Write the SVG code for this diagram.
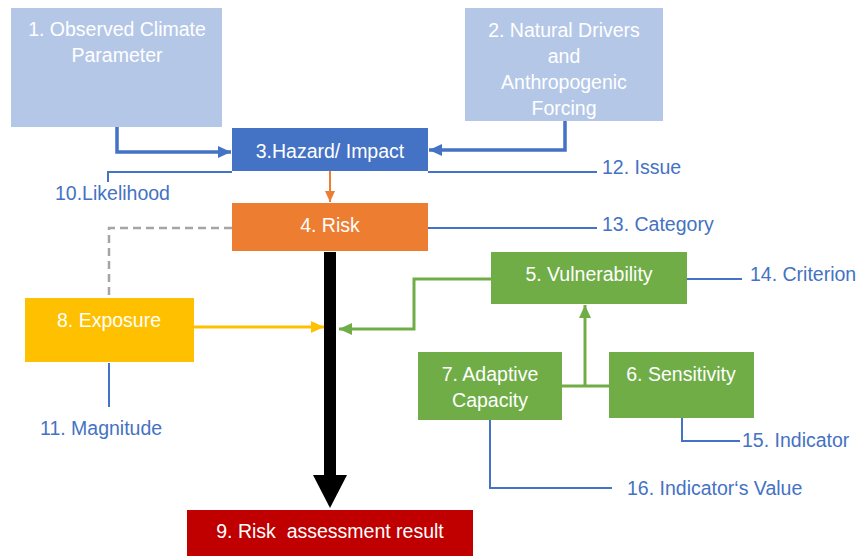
<svg xmlns="http://www.w3.org/2000/svg" width="861" height="556" viewBox="0 0 861 556">
<style>
text{font-family:"Liberation Sans",Arial,sans-serif;font-size:19.5px}
.w{fill:#ffffff;text-anchor:middle}
.lb{fill:#4472C4}
.bl{fill:none;stroke:#4472C4;stroke-width:2}
.bt{fill:none;stroke:#4472C4;stroke-width:3.5}
.gr{fill:none;stroke:#70AD47;stroke-width:3}
</style>
<defs>
<marker id="ab" markerUnits="userSpaceOnUse" markerWidth="14" markerHeight="14" refX="13" refY="7" orient="auto"><path d="M0,1 L13,7 L0,13 Z" fill="#4472C4"/></marker>
<marker id="ao" markerUnits="userSpaceOnUse" markerWidth="12" markerHeight="12" refX="11" refY="6" orient="auto"><path d="M0,1 L11,6 L0,11 Z" fill="#ED7D31"/></marker>
<marker id="ay" markerUnits="userSpaceOnUse" markerWidth="14" markerHeight="14" refX="13" refY="7" orient="auto"><path d="M0,1 L13,7 L0,13 Z" fill="#FFC000"/></marker>
<marker id="ag" markerUnits="userSpaceOnUse" markerWidth="14" markerHeight="14" refX="13" refY="7" orient="auto"><path d="M0,1 L13,7 L0,13 Z" fill="#70AD47"/></marker>
</defs>
<g id="connectors">
<path class="bt" d="M117,127 V152 H231" marker-end="url(#ab)"/>
<path class="bt" d="M565,121 V150 H429" marker-end="url(#ab)"/>
<path class="bl" d="M232,172 H108 V182"/>
<path class="bl" d="M428,172 H597"/>
<path d="M330,171 V202" fill="none" stroke="#ED7D31" stroke-width="2" marker-end="url(#ao)"/>
<path d="M232,228 H109 V298" fill="none" stroke="#A5A5A5" stroke-width="2.5" stroke-dasharray="8,5"/>
<path class="bl" d="M428,228 H597"/>
<line x1="330" y1="252" x2="330" y2="477" stroke="#000000" stroke-width="12"/>
<polygon points="313,475 347,475 330,508" fill="#000000"/>
<path d="M194,327 H324" fill="none" stroke="#FFC000" stroke-width="3" marker-end="url(#ay)"/>
<path class="gr" d="M491,279 H414 V329 H339" marker-end="url(#ag)"/>
<path class="bl" d="M687,279 H742"/>
<path class="gr" d="M562,386 H609"/>
<path class="gr" d="M585,386 V305" marker-end="url(#ag)"/>
<path class="bl" d="M682,418 V441 H740"/>
<path class="bl" d="M490,420 V488 H612"/>
<path class="bl" d="M109,363 V407"/>
</g>
<g id="n1"><rect x="11" y="8" width="211" height="119" fill="#B4C7E7"/><text class="w" x="117" y="36">1. Observed Climate</text><text class="w" x="117" y="62">Parameter</text></g>
<g id="n2"><rect x="465" y="8" width="198" height="113" fill="#B4C7E7"/><text class="w" x="564" y="37">2. Natural Drivers</text><text class="w" x="564" y="63">and</text><text class="w" x="564" y="89">Anthropogenic</text><text class="w" x="564" y="115">Forcing</text></g>
<g id="n3"><rect x="232" y="128" width="196" height="43" fill="#4472C4"/><text class="w" x="330" y="158">3.Hazard/ Impact</text></g>
<g id="n4"><rect x="232" y="203" width="196" height="48" fill="#ED7D31"/><text class="w" x="330" y="232">4. Risk</text></g>
<g id="n5"><rect x="491" y="252" width="196" height="52" fill="#70AD47"/><text class="w" x="589" y="281">5. Vulnerability</text></g>
<g id="n6"><rect x="609" y="352" width="145" height="66" fill="#70AD47"/><text class="w" x="681" y="381">6. Sensitivity</text></g>
<g id="n7"><rect x="418" y="352" width="144" height="68" fill="#70AD47"/><text class="w" x="490" y="381">7. Adaptive</text><text class="w" x="490" y="407">Capacity</text></g>
<g id="n8"><rect x="25" y="298" width="169" height="64" fill="#FFC000"/><text class="w" x="109" y="327">8. Exposure</text></g>
<g id="n9"><rect x="187" y="510" width="286" height="46" fill="#C00000"/><text class="w" x="330" y="538" xml:space="preserve">9. Risk  assessment result</text></g>
<g id="l10"><text class="lb" x="55" y="200">10.Likelihood</text></g>
<g id="l11"><text class="lb" x="40" y="435">11. Magnitude</text></g>
<g id="l12"><text class="lb" x="602" y="174">12. Issue</text></g>
<g id="l13"><text class="lb" x="602" y="231">13. Category</text></g>
<g id="l14"><text class="lb" x="750" y="281">14. Criterion</text></g>
<g id="l15"><text class="lb" x="742" y="447">15. Indicator</text></g>
<g id="l16"><text class="lb" x="627" y="495">16. Indicator‘s Value</text></g>
</svg>
